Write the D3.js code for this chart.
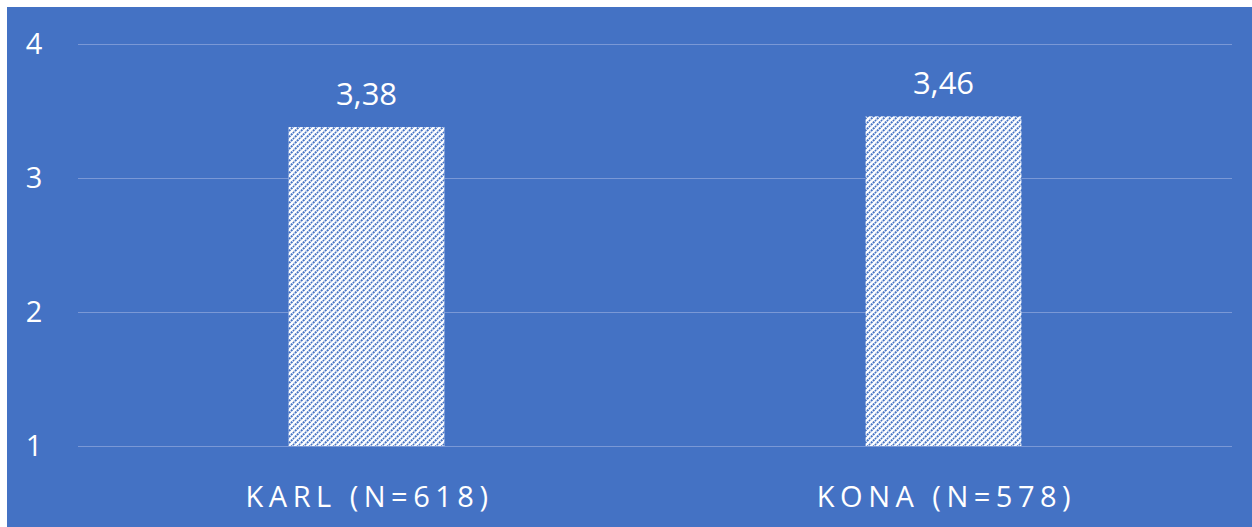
<!DOCTYPE html>
<html><head><meta charset="utf-8">
<script src="https://cdn.jsdelivr.net/npm/d3@7"></script>
<style>body{margin:0;background:#fff}svg{display:block}</style>
</head><body>
<script>
const categories = ["KARL (N=618)", "KONA (N=578)"];
const values = [3.38, 3.46];
const valueLabels = ["3,38", "3,46"];
const yTicks = [1, 2, 3, 4];

const W = 1252, H = 527;
const svg = d3.select("body").append("svg").attr("width", W).attr("height", H);
const blue = "#4472C4";
svg.append("rect").attr("x", 7).attr("y", 7).attr("width", W - 7).attr("height", H - 7).attr("fill", blue);

const defs = svg.append("defs");
const pat = defs.append("pattern").attr("id", "hatch").attr("patternUnits", "userSpaceOnUse")
  .attr("width", 6).attr("height", 6);
pat.append("rect").attr("width", 6).attr("height", 6).attr("fill", "#fff");
pat.append("path").attr("d", "M-1,7 L7,-1 M-4,4 L4,-4 M2,10 L10,2")
  .attr("stroke", blue).attr("stroke-width", 2).attr("stroke-dasharray", "2,0.8");

const x = d3.scaleBand().domain(categories).range([78, 1232]).paddingInner(0.73).paddingOuter(0.365);
const y = d3.scaleLinear().domain([1, 4]).range([446, 44]);

const font = "'Open Sans', 'Noto Sans', sans-serif";

svg.append("g").selectAll("line").data(yTicks).join("line")
  .attr("x1", 78).attr("x2", 1232)
  .attr("y1", d => Math.round(y(d)) + 0.5).attr("y2", d => Math.round(y(d)) + 0.5)
  .attr("stroke", "#7a98d6").attr("stroke-width", 1);

svg.append("g").selectAll("text").data(yTicks).join("text")
  .attr("x", 34).attr("y", d => y(d)).attr("dy", "0.36em")
  .attr("text-anchor", "middle").attr("fill", "#fff")
  .attr("font-family", font).attr("font-size", 29).text(d => d);

svg.append("g").selectAll("rect").data(values).join("rect")
  .attr("x", (d, i) => x(categories[i])).attr("width", x.bandwidth())
  .attr("y", d => y(d)).attr("height", d => y(1) - y(d))
  .attr("fill", "url(#hatch)");

svg.append("g").selectAll("text").data(values).join("text")
  .attr("x", (d, i) => x(categories[i]) + x.bandwidth() / 2)
  .attr("y", d => y(d) - 22)
  .attr("text-anchor", "middle").attr("fill", "#fff")
  .attr("font-family", font).attr("font-size", 31).text((d, i) => valueLabels[i]);

svg.append("g").selectAll("text").data(categories).join("text")
  .attr("x", d => x(d) + x.bandwidth() / 2 + 3)
  .attr("y", 507)
  .attr("text-anchor", "middle").attr("fill", "#fff")
  .attr("font-family", font).attr("font-size", 29).attr("letter-spacing", "5.5px")
  .text(d => d);
</script>
</body></html>
